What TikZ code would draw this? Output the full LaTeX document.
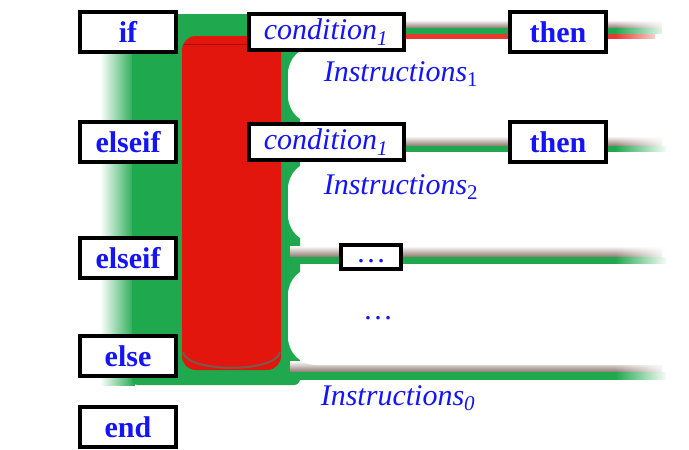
\documentclass[tikz,border=0pt]{standalone}
\usepackage{fontspec}
\setmainfont{Liberation Serif}
\usetikzlibrary{fadings}
\definecolor{gr}{RGB}{32,168,78}
\definecolor{rd}{RGB}{226,22,12}
\definecolor{dk}{RGB}{120,90,80}
\definecolor{sh}{RGB}{140,120,110}
\definecolor{tb}{RGB}{20,20,245}
\begin{document}
\begin{tikzpicture}[x=1pt,y=-1pt,
  kw/.style={draw=black,line width=4pt,fill=white,text=tb,font=\fontsize{30}{32}\selectfont\bfseries,minimum width=96pt,minimum height=40pt,inner sep=0pt},
  cond/.style={draw=black,line width=4pt,fill=white,text=tb,font=\fontsize{30}{32}\selectfont\itshape,minimum width=155pt,minimum height=36pt,inner sep=0pt},
  lbl/.style={text=tb,font=\fontsize{30}{32}\selectfont\itshape,inner sep=0pt},
  hole/.style={fill=white,rounded corners=28pt}]
\useasboundingbox (0,0) rectangle (689,450);
\clip (0,0) rectangle (689,450);
\fill[white] (0,0) rectangle (689,450);
% green body with fading left edge
\shade[left color=white,right color=gr] (100,14) rectangle (135,385);
\fill[gr,rounded corners=6pt] (132,14) rectangle (300,385);
% bars
\shade[top color=white,bottom color=sh] (290,20) rectangle (662,28);
\fill[gr] (290,28) rectangle (662,34);
\fill[rd!80!pink] (290,34) rectangle (655,39);
\shade[top color=white,bottom color=sh] (290,136) rectangle (662,146);
\fill[gr] (290,146) rectangle (666,152);
\shade[top color=white,bottom color=sh] (290,246) rectangle (662,257);
\fill[gr] (290,257) rectangle (666,264);
\shade[top color=white,bottom color=sh] (290,361) rectangle (662,372);
\fill[gr] (290,372) rectangle (666,380);
% fade at the right end of the bars
\fill[white,path fading=west] (615,0) rectangle (668,450);
% white holes
\fill[hole] (288,46) rectangle (720,124);
\fill[hole] (288,161) rectangle (720,243);
\fill[hole] (288,267) rectangle (720,365);
\fill[hole] (296,384) rectangle (720,480);
% red cylinder
\fill[rd,rounded corners=14pt] (182,36) rectangle (281,370);
\draw[dk,line width=2pt] (183,352) .. controls (186,373) and (277,373) .. (280,352);
\draw[rd!70!black,line width=1pt] (184,44) -- (279,44);
% keyword boxes
\node[kw] (kif) at (128,32) {if};
\node[kw] (kei1) at (128,142) {elseif};
\node[kw] (kei2) at (128,258) {elseif};
\node[kw] (kel) at (128,356) {else};
\node[kw] (ken) at (128,427) {end};
% conditions and then
\node[cond] (c1) at (326,32) {condition\textsubscript{1}};
\node[kw] (t1) at (558,32) {then};
\node[cond] (c2) at (326,142) {condition\textsubscript{1}};
\node[kw] (t2) at (558,142) {then};
\node[draw=black,line width=4pt,fill=white,text=tb,font=\fontsize{30}{32}\selectfont,minimum width=60pt,minimum height=24pt,text height=4pt,text depth=0pt,inner sep=0pt] (dd) at (371,257) {\raisebox{-3pt}{\dots}};
% labels
\node[lbl] (i1) at (401,74) {Instructions\textsubscript{\upshape 1}};
\node[lbl] (i2) at (401,187) {Instructions\textsubscript{\upshape 2}};
\node[lbl,font=\fontsize{30}{32}\selectfont] (i3) at (378,318) {\dots};
\node[lbl] (i0) at (398,398) {Instructions\textsubscript{0}};
\end{tikzpicture}
\end{document}
